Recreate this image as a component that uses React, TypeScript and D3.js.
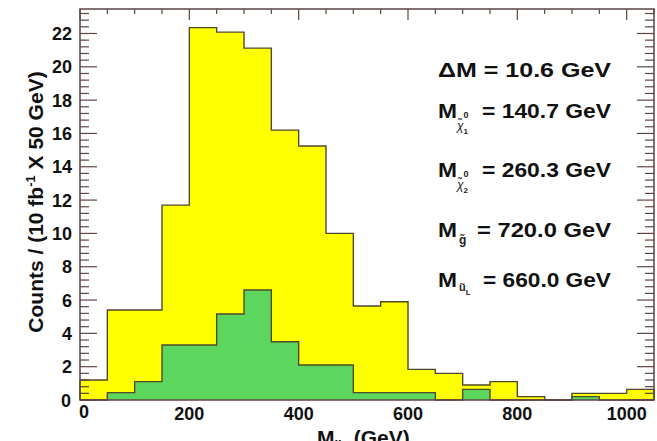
import React from "react";
import * as d3 from "d3";

const binEdges = [0, 50, 100, 150, 200, 250, 300, 350, 400, 450, 500, 550, 600, 650, 700, 750, 800, 850, 900, 950, 1000, 1050];
const totalCounts = [1.2, 5.4, 5.4, 11.7, 22.35, 22.08, 21.12, 16.2, 15.25, 10.0, 5.64, 5.9, 1.84, 1.6, 0.9, 1.1, 0.2, 0, 0.4, 0.4, 0.64];
const signalCounts = [0, 0.44, 1.1, 3.3, 3.3, 5.16, 6.6, 3.5, 2.1, 2.1, 0.44, 0.44, 0.44, 0, 0.64, 0, 0, 0, 0.2, 0, 0];
const xTickLabels = [0, 200, 400, 600, 800, 1000];
const yTickLabels = [0, 2, 4, 6, 8, 10, 12, 14, 16, 18, 20, 22];

const W = 657, H = 441;
const L = 80, R = 654, T = 9, B = 400;
const X_MAX = 1050, Y_MAX = 23.47;
const FRAME = "#5e4545";
const OUTLINE = "#4e4a2a";
const FONT = "'Liberation Sans', Arial, Helvetica, sans-serif";

function stepPoints(vals: number[]) {
  const pts: [number, number][] = [];
  vals.forEach((v, i) => pts.push([binEdges[i], v]));
  pts.push([binEdges[binEdges.length - 1], vals[vals.length - 1]]);
  return pts;
}

export default function App() {
  const x = d3.scaleLinear().domain([0, X_MAX]).range([L, R]);
  const y = d3.scaleLinear().domain([0, Y_MAX]).range([B, T]);

  const area = d3.area<[number, number]>()
    .x(d => x(d[0])).y0(y(0)).y1(d => y(d[1])).curve(d3.curveStepAfter);
  const line = d3.line<[number, number]>()
    .x(d => x(d[0])).y(d => y(d[1])).curve(d3.curveStepAfter);

  const outline = (vals: number[]) => {
    const pts = stepPoints(vals);
    return "M" + x(0) + "," + y(0) + "L" + (line(pts) as string).slice(1) + "L" + x(X_MAX) + "," + y(0);
  };

  const yMinor = d3.range(0, Y_MAX, 0.4);
  const xMinor = d3.range(0, X_MAX + 1, 50);

  const annot = [
    { sub: "chi1", val: "= 140.7 GeV", by: 118, vx: 482 },
    { sub: "chi2", val: "= 260.3 GeV", by: 177, vx: 482 },
    { sub: "g", val: "= 720.0 GeV", by: 237, vx: 477 },
    { sub: "uL", val: "= 660.0 GeV", by: 287, vx: 483 },
  ];

  return (
    <svg width={W} height={H} style={{ position: "absolute", left: 0, top: 0, background: "#fff" }} fontFamily={FONT}>
      <rect x={0} y={0} width={W} height={H} fill="#fff" />
      <path d={area(stepPoints(totalCounts)) as string} fill="#ffff00" />
      <path d={outline(totalCounts)} fill="none" stroke={OUTLINE} strokeWidth={1.4} />
      <path d={area(stepPoints(signalCounts)) as string} fill="#5cd65c" />
      <path d={outline(signalCounts)} fill="none" stroke={OUTLINE} strokeWidth={1.4} />

      <rect x={L} y={T} width={R - L} height={B - T} fill="none" stroke={FRAME} strokeWidth={1.5} />

      {yMinor.map((v, i) => {
        const major = i % 5 === 0;
        const len = major ? 17 : 9;
        return (
          <g key={"yt" + i}>
            <line x1={L} x2={L + len} y1={y(v)} y2={y(v)} stroke={FRAME} strokeWidth={1.2} />
            <line x1={R} x2={R - len} y1={y(v)} y2={y(v)} stroke={FRAME} strokeWidth={1.2} />
          </g>
        );
      })}
      {xMinor.map((v, i) => {
        const major = v % 200 === 0;
        const len = major ? 11 : 5;
        return <line key={"xt" + i} x1={x(v)} x2={x(v)} y1={T} y2={T + len} stroke={FRAME} strokeWidth={1.2} />;
      })}

      {yTickLabels.map(v => (
        <text key={"yl" + v} x={v === 0 ? 71 : 72} y={y(v) + (v === 0 ? 7 : 6.5)} textAnchor="end" fontSize={18} fontWeight="bold" fill="#111">{v}</text>
      ))}
      {xTickLabels.map(v => (
        <text key={"xl" + v} x={x(v) + (v === 0 ? 4 : 0)} y={v === 0 ? 418 : 420} textAnchor="middle" fontSize={18} fontWeight="bold" fill="#111">{v}</text>
      ))}

      <text transform="translate(43,202) rotate(-90)" textAnchor="middle" fontSize={21} fontWeight="bold" fill="#111">
        <tspan>Counts / (10 fb</tspan>
        <tspan dy={-8} fontSize={13}>-1</tspan>
        <tspan dy={8}> X 50 GeV)</tspan>
      </text>

      <text x={317} y={445} fontSize={21} fontWeight="bold" fill="#111">
        <tspan>M</tspan>
        <tspan dy={4} fontSize={13}>ll</tspan>
        <tspan dy={-4} dx={12}>(GeV)</tspan>
      </text>

      <text x={438} y={77} fontSize={20} fontWeight="bold" fill="#111" textLength={173} lengthAdjust="spacingAndGlyphs">ΔM = 10.6 GeV</text>
      {annot.map((a, i) => (
        <g key={"an" + i}>
          <text x={438} y={a.by} fontSize={20} fontWeight="bold" fill="#111" textLength={19} lengthAdjust="spacingAndGlyphs">M</text>
          <text x={a.vx} y={a.by} fontSize={20} fontWeight="bold" fill="#111" textLength={611 - a.vx} lengthAdjust="spacingAndGlyphs">{a.val}</text>
          {(a.sub === "chi1" || a.sub === "chi2") && (
            <text x={457} y={a.by + 12} fontSize={12} fill="#222">
              <tspan fontStyle="italic">{"\u03C7\u0303"}</tspan>
              <tspan dy={-12} fontSize={9} fontWeight="bold">0</tspan>
              <tspan dy={16} dx={-5} fontSize={8} fontWeight="bold">{a.sub === "chi1" ? "1" : "2"}</tspan>
            </text>
          )}
          {a.sub === "g" && (
            <text x={459} y={a.by + 7} fontSize={12} fontWeight="bold" fill="#222">{"g\u0303"}</text>
          )}
          {a.sub === "uL" && (
            <text x={459} y={a.by + 4} fontSize={11} fontWeight="bold" fill="#222">
              <tspan>{"u\u0303"}</tspan>
              <tspan dy={4} fontSize={8}>L</tspan>
            </text>
          )}
        </g>
      ))}
    </svg>
  );
}
